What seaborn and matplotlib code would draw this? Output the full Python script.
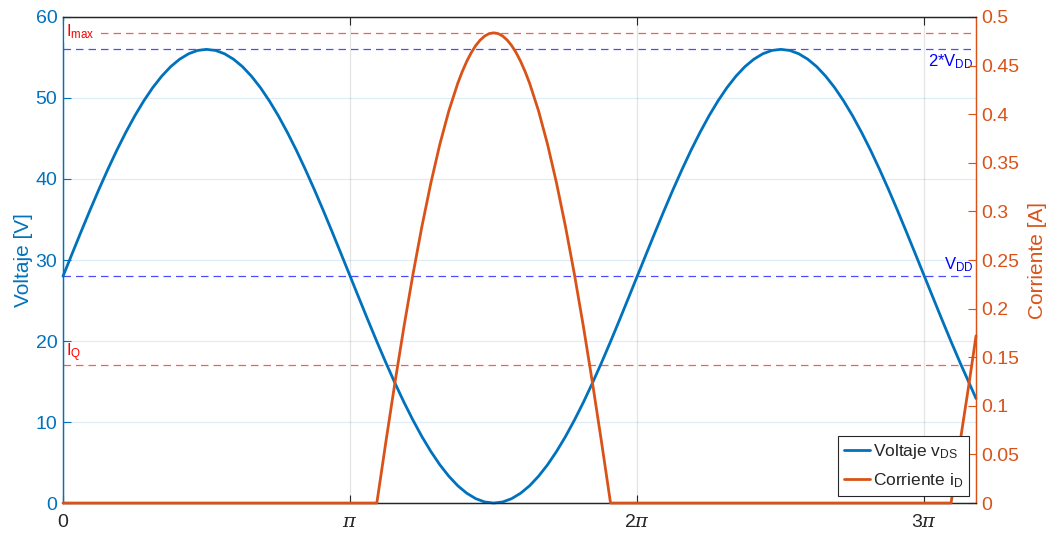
import numpy as np
import pandas as pd
import matplotlib
matplotlib.use("Agg")
import matplotlib.pyplot as plt
import seaborn as sns
from matplotlib.lines import Line2D

# ---- data (x in units of pi) ----
x_v = [j / 32 for j in range(0, 102)] + [3.18]
v_ds = [28.0, 30.74, 33.46, 36.13, 38.72, 41.20, 43.56, 45.76, 47.80, 49.64, 51.28, 52.69,
        53.87, 54.79, 55.46, 55.87, 56.0,
        55.87, 55.46, 54.79, 53.87, 52.69, 51.28, 49.64, 47.80, 45.76, 43.56, 41.20,
        38.72, 36.13, 33.46, 30.74, 28.0,
        25.26, 22.54, 19.87, 17.28, 14.80, 12.44, 10.24, 8.20, 6.36, 4.72, 3.31,
        2.13, 1.21, 0.54, 0.13, 0.0,
        0.13, 0.54, 1.21, 2.13, 3.31, 4.72, 6.36, 8.20, 10.24, 12.44, 14.80,
        17.28, 19.87, 22.54, 25.26, 28.0,
        30.74, 33.46, 36.13, 38.72, 41.20, 43.56, 45.76, 47.80, 49.64, 51.28, 52.69,
        53.87, 54.79, 55.46, 55.87, 56.0,
        55.87, 55.46, 54.79, 53.87, 52.69, 51.28, 49.64, 47.80, 45.76, 43.56, 41.20,
        38.72, 36.13, 33.46, 30.74, 28.0,
        25.26, 22.54, 19.87, 17.28, 14.80, 12.9]

x_i = [0, 1.093, 1.125, 1.15625, 1.1875, 1.21875, 1.25, 1.28125, 1.3125, 1.34375, 1.375,
       1.390625, 1.40625, 1.421875, 1.4375, 1.453125, 1.46875, 1.484375, 1.5,
       1.515625, 1.53125, 1.546875, 1.5625, 1.578125, 1.59375, 1.609375, 1.625,
       1.65625, 1.6875, 1.71875, 1.75, 1.78125, 1.8125, 1.84375, 1.875, 1.907,
       3.093, 3.125, 3.15625, 3.18]
i_d = [0, 0, 0.0639, 0.1242, 0.1815, 0.2351, 0.2845, 0.3293, 0.3691, 0.4034, 0.4319,
       0.4439, 0.4544, 0.4633, 0.4706, 0.4763, 0.4804, 0.4829, 0.4837,
       0.4829, 0.4804, 0.4763, 0.4706, 0.4633, 0.4544, 0.4439, 0.4319,
       0.4034, 0.3691, 0.3293, 0.2845, 0.2351, 0.1815, 0.1242, 0.0639, 0,
       0, 0.0639, 0.1242, 0.172]

V_DD = 28.0
I_max = 0.4835
I_Q = 0.142

x_ticks = [0, 1, 2, 3]
x_ticklabels = ["0", r"$\pi$", r"2$\pi$", r"3$\pi$"]
v_ticks = [0, 10, 20, 30, 40, 50, 60]
i_ticks = [0, 0.05, 0.1, 0.15, 0.2, 0.25, 0.3, 0.35, 0.4, 0.45, 0.5]
i_ticklabels = ["0", "0.05", "0.1", "0.15", "0.2", "0.25", "0.3", "0.35", "0.4", "0.45", "0.5"]

# ---- style ----
sns.set_style("white")
plt.rcParams["font.family"] = ["Liberation Sans", "DejaVu Sans"]
plt.rcParams["mathtext.fontset"] = "custom"
plt.rcParams["mathtext.rm"] = "Liberation Sans"
plt.rcParams["mathtext.it"] = "DejaVu Serif:italic"
plt.rcParams["mathtext.bf"] = "Liberation Sans:bold"

BLUE = "#0072BD"
ORANGE = "#D95319"
DARK = "#262626"

fig = plt.figure(figsize=(10.52, 5.34), dpi=100)
ax = fig.add_axes([0.0599, 0.058, 0.8679, 0.9102])
ax2 = ax.twinx()

df_v = pd.DataFrame({"x": x_v, "v": v_ds})
df_i = pd.DataFrame({"x": x_i, "i": i_d})

sns.lineplot(data=df_v, x="x", y="v", ax=ax, color=BLUE, linewidth=2.0, legend=False)
sns.lineplot(data=df_i, x="x", y="i", ax=ax2, color=ORANGE, linewidth=2.0, legend=False)
for ln in ax.lines + ax2.lines:
    ln.set_clip_on(False)
    ln.set_zorder(3)

ax.set_xlim(0, 3.18)
ax.set_ylim(0, 60)
ax2.set_ylim(0, 0.5)

# reference lines
dash = (0, (6, 4))
ax.axhline(2 * V_DD, color="#0000FF", alpha=0.7, lw=0.9, ls=dash, zorder=1)
ax.axhline(V_DD, color="#0000FF", alpha=0.7, lw=0.9, ls=dash, zorder=1)
ax2.axhline(I_max, color="#FF0000", alpha=0.65, lw=0.9, ls=dash, zorder=1)
ax2.axhline(I_Q, color="#FF0000", alpha=0.65, lw=0.9, ls=dash, zorder=1)

ax.text(0.997, 2 * V_DD - 0.4, r"2*V$_{\mathrm{DD}}$", transform=ax.get_yaxis_transform(),
        ha="right", va="top", color="#0000FF", fontsize=12)
ax.text(0.997, V_DD + 0.3, r"V$_{\mathrm{DD}}$", transform=ax.get_yaxis_transform(),
        ha="right", va="bottom", color="#0000FF", fontsize=12)
ax2.text(0.003, I_max + 0.001, r"I$_{\mathrm{max}}$", transform=ax2.get_yaxis_transform(),
         ha="left", va="center", color="#FF0000", fontsize=12, zorder=2,
         bbox=dict(facecolor="white", edgecolor="none", pad=1.5))
ax2.text(0.003, I_Q + 0.001, r"I$_{\mathrm{Q}}$", transform=ax2.get_yaxis_transform(),
         ha="left", va="bottom", color="#FF0000", fontsize=12)

# ticks
ax.set_xticks(x_ticks)
ax.set_xticklabels(x_ticklabels)
ax.set_yticks(v_ticks)
ax2.set_yticks(i_ticks)
ax2.set_yticklabels(i_ticklabels)

ax.tick_params(axis="x", direction="in", length=6, width=0.8, colors=DARK, labelsize=14,
               top=True, bottom=True, pad=8)
ax.tick_params(axis="y", direction="in", length=6, width=0.8, colors=BLUE, labelsize=14, pad=4)
ax2.tick_params(axis="y", direction="in", length=6, width=0.8, colors=ORANGE, labelsize=14, pad=4)
ax2.tick_params(axis="x", top=False, bottom=False)

# grid
ax.grid(True, axis="y", color=BLUE, alpha=0.13, lw=0.9)
ax.grid(True, axis="x", color=DARK, alpha=0.12, lw=0.9)
ax.set_axisbelow(True)

for a in (ax, ax2):
    a.spines["top"].set_color(DARK)
    a.spines["bottom"].set_color(DARK)
    a.spines["left"].set_color(BLUE)
    a.spines["right"].set_color(ORANGE)
    for s in a.spines.values():
        s.set_linewidth(0.9)

ax.set_xlabel("")
ax.set_ylabel("Voltaje [V]", color=BLUE, fontsize=15, labelpad=2)
ax2.set_ylabel("Corriente [A]", color=ORANGE, fontsize=15, labelpad=6)

# legend
handles = [Line2D([0], [0], color=BLUE, lw=2.0), Line2D([0], [0], color=ORANGE, lw=2.0)]
leg = ax2.legend(handles, [r"Voltaje v$_{\mathrm{DS}}$", r"Corriente i$_{\mathrm{D}}$"],
                 loc="lower right", fontsize=12.5, frameon=True, fancybox=False,
                 edgecolor=DARK, framealpha=1, borderpad=0.35, handlelength=1.5,
                 handletextpad=0.15, labelspacing=0.6, borderaxespad=0.4)
leg.get_frame().set_linewidth(0.8)

fig.savefig("out.png", dpi=100)
